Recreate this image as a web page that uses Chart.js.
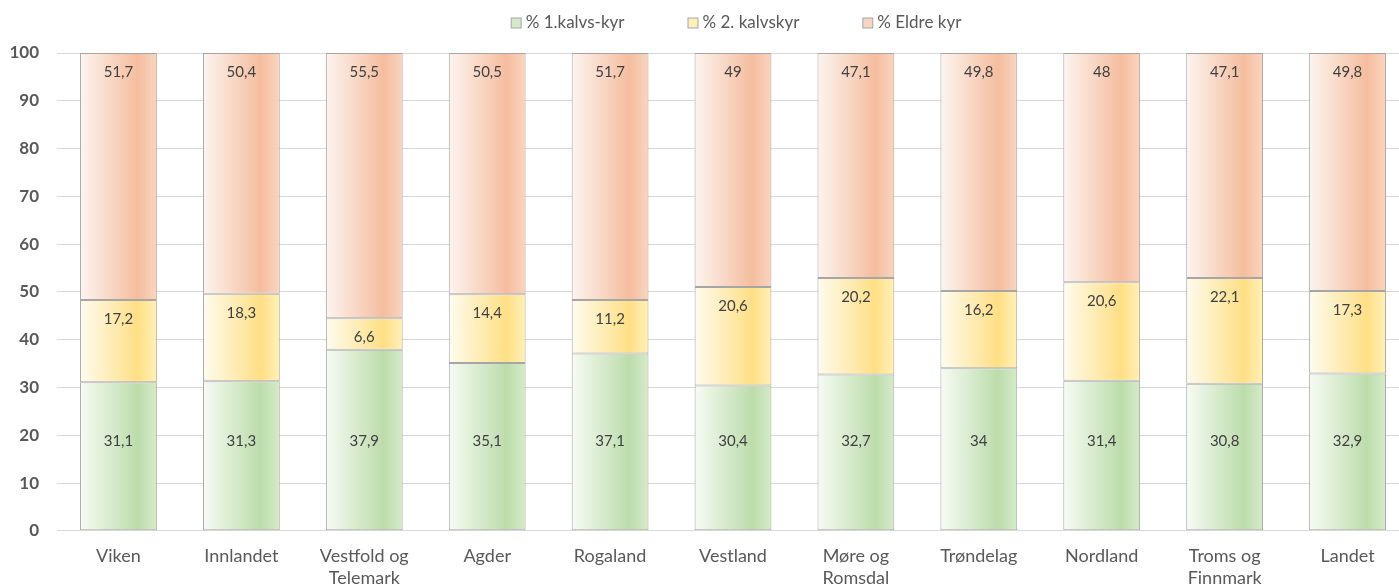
<!DOCTYPE html>
<html>
<head>
<meta charset="utf-8">
<script src="https://cdn.jsdelivr.net/npm/chart.js@4"></script>
<style>
  html, body { margin: 0; padding: 0; background: #fff; overflow: hidden; }
  #wrap { width: 1409px; height: 596px; }
</style>
</head>
<body>
<div id="wrap"><canvas id="chart"></canvas></div>
<script>
const categories = ['Viken', 'Innlandet', ['Vestfold og', 'Telemark'], 'Agder', 'Rogaland', 'Vestland',
  ['Møre og', 'Romsdal'], 'Trøndelag', 'Nordland', ['Troms og', 'Finnmark'], 'Landet'];
const forsteKalv = [31.1, 31.3, 37.9, 35.1, 37.1, 30.4, 32.7, 34, 31.4, 30.8, 32.9];
const andreKalv = [17.2, 18.3, 6.6, 14.4, 11.2, 20.6, 20.2, 16.2, 20.6, 22.1, 17.3];
const eldreKyr = [51.7, 50.4, 55.5, 50.5, 51.7, 49, 47.1, 49.8, 48, 47.1, 49.8];
const seriesNames = ['% 1.kalvs-kyr', '% 2. kalvskyr', '% Eldre kyr'];
const yTicks = [0, 10, 20, 30, 40, 50, 60, 70, 80, 90, 100];

const FONT = 'Lato, "Open Sans", sans-serif';
const GREY = '#595959';
const BAR_PCT = 0.625;

// pale start colour, full colour, legend swatch per series
const tones = [
  { pale: '#f7fbf4', full: '#bcdcab', legend: '#d6eacb' },
  { pale: '#fffbee', full: '#ffdf85', legend: '#fff0bb' },
  { pale: '#fdf4ef', full: '#f5bd9e', legend: '#f8d5c2' }
];

function gradientFor(i) {
  return function(ctx) {
    const chart = ctx.chart;
    const t = tones[i];
    if (ctx.type !== 'data' || !chart.chartArea) return t.full;
    const xs = chart.scales.x;
    const w = (xs.width / categories.length) * BAR_PCT;
    const x = xs.getPixelForValue(ctx.dataIndex);
    const g = chart.ctx.createLinearGradient(x - w / 2, 0, x + w / 2, 0);
    g.addColorStop(0, t.pale);
    g.addColorStop(0.75, t.full);
    g.addColorStop(1, t.legend);
    return g;
  };
}

function fmt(v) { return String(v).replace('.', ','); }

const labelPlugin = {
  id: 'segLabels',
  afterDatasetsDraw(chart) {
    const c = chart.ctx;
    const ys = chart.scales.y;
    c.save();
    c.font = '15px ' + FONT;
    c.fillStyle = '#404040';
    c.textAlign = 'center';
    c.textBaseline = 'middle';
    chart.data.datasets.forEach((ds, di) => {
      const meta = chart.getDatasetMeta(di);
      meta.data.forEach((el, i) => {
        let y;
        if (di === 0) y = ys.getPixelForValue(18.8);
        else y = el.y + 19;
        c.fillText(fmt(ds.data[i]), el.x, y);
      });
    });
    c.restore();
  }
};

// simple legend drawn on top, wider gaps than the built-in one allows
const legendPlugin = {
  id: 'topLegend',
  afterDraw(chart) {
    const c = chart.ctx;
    const box = 11, gapText = 4, gapItem = 63;
    c.save();
    c.font = '17px ' + FONT;
    const widths = seriesNames.map(n => box + gapText + c.measureText(n).width);
    const total = widths.reduce((a, b) => a + b, 0) + gapItem * (widths.length - 1);
    const ca = chart.chartArea;
    let x = (ca.left + ca.right) / 2 - total / 2 + 3;
    const y = 23;
    seriesNames.forEach((n, i) => {
      c.fillStyle = tones[i].legend;
      c.fillRect(x + 0.5, y - box / 2 + 0.5, box - 1, box - 1);
      c.strokeStyle = '#a6a6a6';
      c.lineWidth = 1;
      c.strokeRect(x + 0.5, y - box / 2 + 0.5, box - 1, box - 1);
      c.fillStyle = GREY;
      c.textBaseline = 'middle';
      c.textAlign = 'left';
      c.fillText(n, x + box + gapText, y);
      x += widths[i] + gapItem;
    });
    c.restore();
  }
};

const datasets = [forsteKalv, andreKalv, eldreKyr].map((d, i) => ({
  label: seriesNames[i],
  data: d,
  backgroundColor: gradientFor(i),
  borderColor: '#a6a6a6',
  borderWidth: 1,
  borderSkipped: false,
  categoryPercentage: 1,
  barPercentage: BAR_PCT
}));

new Chart(document.getElementById('chart'), {
  type: 'bar',
  data: { labels: categories, datasets },
  options: {
    responsive: true,
    maintainAspectRatio: false,
    animation: false,
    layout: { padding: { left: 0, right: 0, top: 53, bottom: 0 } },
    plugins: {
      tooltip: { enabled: false },
      legend: { display: false }
    },
    scales: {
      x: {
        stacked: true,
        grid: { display: false },
        border: { color: '#d9d9d9' },
        ticks: {
          font: { family: FONT, size: 18 },
          color: GREY,
          maxRotation: 0,
          autoSkip: false,
          padding: 7
        }
      },
      y: {
        stacked: true,
        min: 0,
        max: 100,
        afterBuildTicks(axis) { axis.ticks = yTicks.map(v => ({ value: v })); },
        afterFit(axis) { axis.width = 57; },
        grid: { color: '#d9d9d9', drawTicks: false },
        border: { display: false },
        ticks: {
          font: { family: FONT, size: 17, weight: 'bold' },
          color: GREY,
          padding: 18
        }
      }
    }
  },
  plugins: [labelPlugin, legendPlugin]
});
</script>
</body>
</html>
